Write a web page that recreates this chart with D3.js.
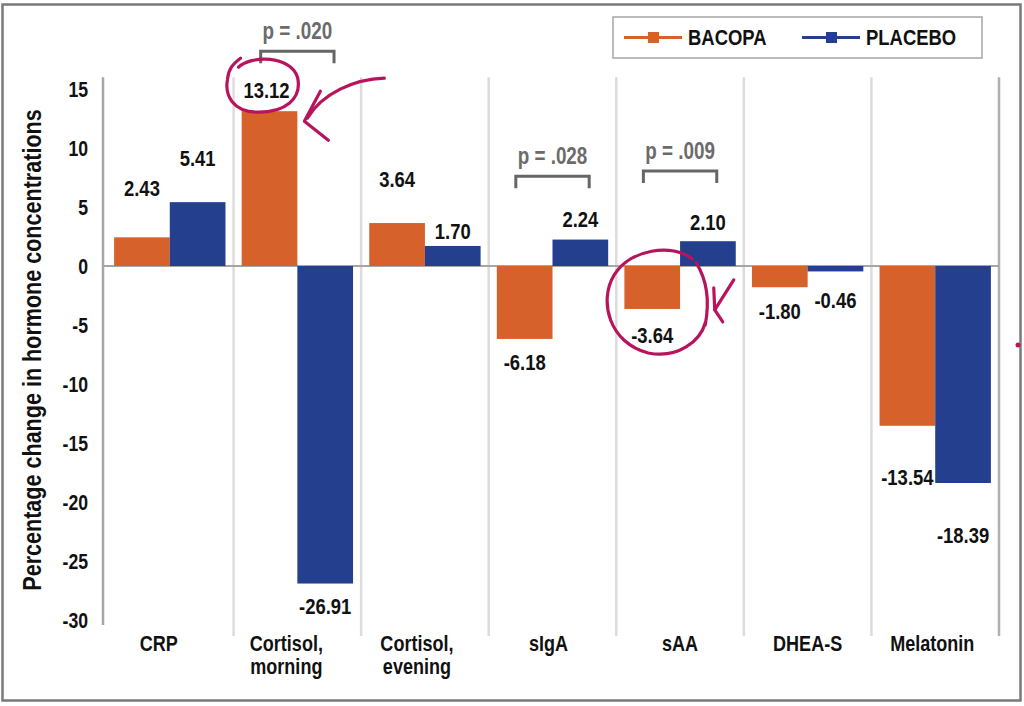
<!DOCTYPE html>
<html>
<head>
<meta charset="utf-8">
<script src="https://cdn.jsdelivr.net/npm/d3@7/dist/d3.min.js"></script>
<style>
  html, body { margin: 0; padding: 0; background: #fff; }
  svg { display: block; }
  text { font-family: "Liberation Sans", Arial, sans-serif; font-weight: bold; }
</style>
</head>
<body>
<svg id="chart" width="1024" height="706"></svg>
<script>
// ---- data ----
const categories = ["CRP", "Cortisol,\nmorning", "Cortisol,\nevening", "sIgA", "sAA", "DHEA-S", "Melatonin"];
const seriesNames = ["BACOPA", "PLACEBO"];
const bacopa  = [2.43, 13.12, 3.64, -6.18, -3.64, -1.80, -13.54];
const placebo = [5.41, -26.91, 1.70, 2.24, 2.10, -0.46, -18.39];
const yTicks  = [15, 10, 5, 0, -5, -10, -15, -20, -25, -30];
const pLabels = ["p = .020", "p = .028", "p = .009"];
const pCats   = ["Cortisol,\nmorning", "sIgA", "sAA"];
const pLevels = [18.2, 7.6, 8.05];           // bracket heights in data units
const circled = ["Cortisol,\nmorning", "sAA"];

// ---- layout / style (not data) ----
const colors = { BACOPA: "#d6612a", PLACEBO: "#233f8d" };
const labelGapB = [49, 21, 44, 23, 26, 24, 51];   // px gap between bar end and label centre
const labelGapP = [44, 22.5, 15, 20, 19, 28.6, 52];
const labelDxB  = [0, -3, 0, 0, 0, 0, 0];
const catDx     = [-11, -11, -8, -4, 0, 0, -3];
const magenta = "#b8145c";
const S = 0.82;   // horizontal squeeze -> narrow face
const fmt = v => v.toFixed(2);

const svg = d3.select("#chart");

// outer frame
svg.append("rect").attr("x", 2.5).attr("y", 4.5).attr("width", 1018).attr("height", 696)
  .attr("fill", "none").attr("stroke", "#7a7a7a").attr("stroke-width", 2.5);

const x = d3.scaleBand().domain(categories).range([106, 999]).paddingInner(0.127).paddingOuter(0.0635);
const xs = d3.scaleBand().domain(seriesNames).range([0, x.bandwidth()]);
const y = d3.scaleLinear().domain([-30, 16]).range([620, 77.2]);

const step = x.step();
const cellLeft = c => x(c) - x.paddingInner() * step / 2;

// category separators
const seps = categories.map(c => cellLeft(c) + step);
svg.append("g").selectAll("line").data(seps).join("line")
  .attr("x1", d => d).attr("x2", d => d)
  .attr("y1", y(16)).attr("y2", 636)
  .attr("stroke", (d, i) => i === seps.length - 1 ? "#b0b0b0" : "#dcdcdc")
  .attr("stroke-width", 2.5);

// zero line
svg.append("line").attr("x1", 104).attr("x2", seps[seps.length - 1]).attr("y1", y(0)).attr("y2", y(0))
  .attr("stroke", "#a6a6a6").attr("stroke-width", 2);

// bars
const rows = categories.map((c, i) => ({ c, i, vals: [
  { s: "BACOPA", v: bacopa[i], gap: labelGapB[i], dx: labelDxB[i] },
  { s: "PLACEBO", v: placebo[i], gap: labelGapP[i], dx: 0 }] }));

const grp = svg.append("g").selectAll("g").data(rows).join("g")
  .attr("transform", d => `translate(${x(d.c)},0)`);

grp.selectAll("rect").data(d => d.vals).join("rect")
  .attr("x", d => xs(d.s)).attr("width", xs.bandwidth())
  .attr("y", d => y(Math.max(0, d.v))).attr("height", d => Math.abs(y(d.v) - y(0)))
  .attr("fill", d => colors[d.s]);

grp.selectAll("text").data(d => d.vals).join("text")
  .attr("transform", d => `translate(${xs(d.s) + xs.bandwidth() / 2 + d.dx},${d.v >= 0 ? y(d.v) - d.gap : y(d.v) + d.gap}) scale(${S},1)`)
  .attr("dy", "0.35em")
  .attr("text-anchor", "middle").attr("font-size", 22.5).attr("fill", "#111")
  .text(d => fmt(d.v));

// y axis
const yAxis = d3.axisLeft(y).tickValues(yTicks).tickSize(0).tickPadding(0).tickFormat(d => String(d));
const ya = svg.append("g").attr("transform", "translate(103,0)").call(yAxis);
ya.select(".domain").attr("stroke", "#a6a6a6").attr("stroke-width", 2.5).attr("d", `M0,${y(16)}V625`);
ya.selectAll(".tick text").attr("x", null).attr("dy", "0.35em")
  .attr("transform", `translate(-15,0) scale(${S},1)`)
  .attr("font-size", 21.5).attr("fill", "#111")
  .style("font-family", "'Liberation Sans', Arial, sans-serif").style("font-weight", "bold");

// y title
svg.append("text").attr("transform", `translate(32,${350}) rotate(-90) scale(${S},1)`)
  .attr("text-anchor", "middle").attr("dy", "0.35em").attr("font-size", 26.3).attr("fill", "#111")
  .text("Percentage change in hormone concentrations");

// category labels
const cl = svg.append("g").selectAll("text").data(categories).join("text")
  .attr("transform", (d, i) => `translate(${x(d) + x.bandwidth() / 2 + catDx[i]},651) scale(${S},1)`)
  .attr("text-anchor", "middle")
  .attr("font-size", 22).attr("fill", "#111");
cl.selectAll("tspan").data(d => d.split("\n")).join("tspan")
  .attr("x", 0)
  .attr("dy", (d, i) => i === 0 ? 0 : 23)
  .text(d => d);

// p-value brackets
pCats.forEach((c, i) => {
  const x0 = x(c) + 19, x1 = x(c) + x.bandwidth() - 19, yy = y(pLevels[i]);
  svg.append("path").attr("d", `M${x0},${yy + 12}V${yy}H${x1}V${yy + 12}`)
    .attr("fill", "none").attr("stroke", "#666").attr("stroke-width", 3);
  svg.append("text").attr("transform", `translate(${(x0 + x1) / 2},${yy - 20}) scale(${S},1)`).attr("dy", "0.35em")
    .attr("text-anchor", "middle").attr("font-size", 23).attr("fill", "#6b6b6b")
    .text(pLabels[i]);
});

// legend
const lg = svg.append("g");
lg.append("rect").attr("x", 613).attr("y", 17).attr("width", 369).attr("height", 41)
  .attr("fill", "#fff").attr("stroke", "#a6a6a6").attr("stroke-width", 1.5);
seriesNames.forEach((s, i) => {
  const lx = 624 + i * 178;
  lg.append("line").attr("x1", lx).attr("x2", lx + 58).attr("y1", 37.5).attr("y2", 37.5)
    .attr("stroke", colors[s]).attr("stroke-width", 3);
  lg.append("rect").attr("x", lx + 24).attr("y", 32).attr("width", 11).attr("height", 11).attr("fill", colors[s]);
  lg.append("text").attr("transform", `translate(${lx + 64},37.5) scale(${S},1)`).attr("dy", "0.35em")
    .attr("font-size", 22.5).attr("fill", "#111").text(s);
});

// hand-drawn magenta annotations (anchored to the circled bars)
const ann = svg.append("g").attr("fill", "none").attr("stroke", magenta).attr("stroke-width", 3.2)
  .attr("stroke-linecap", "round").attr("stroke-linejoin", "round");
{
  const c = circled[0];
  const i = categories.indexOf(c);
  const bx = x(c) + xs("BACOPA") + xs.bandwidth() / 2 - 3;
  const by = y(bacopa[i]) - labelGapB[i];
  const cx = bx - 4, cy = by - 5;
  ann.append("path").attr("d",
    `M${cx - 24},${cy - 18} C${cx - 12},${cy - 30} ${cx + 28},${cy - 30} ${cx + 35},${cy - 8}
     C${cx + 40},${cy + 14} ${cx + 22},${cy + 27} ${cx - 4},${cy + 27}
     C${cx - 30},${cy + 27} ${cx - 38},${cy + 10} ${cx - 35},${cy - 6}
     C${cx - 34},${cy - 16} ${cx - 30},${cy - 21} ${cx - 22},${cy - 27}`);
  const tx = x(c) + xs("PLACEBO") + 7, ty = y(bacopa[i]) + 10;
  ann.append("path").attr("d", `M${tx + 80},${ty - 43} C${tx + 50},${ty - 42} ${tx + 18},${ty - 28} ${tx + 3},${ty - 3}`);
  ann.append("path").attr("d", `M${tx + 16},${ty - 30} L${tx},${ty} L${tx + 24},${ty + 19}`);
}
{
  const c = circled[1];
  const i = categories.indexOf(c);
  const bx = x(c) + xs("BACOPA") + xs.bandwidth() / 2 + 4;
  const cy = y(bacopa[i]) - 6;
  ann.append("path").attr("d",
    `M${bx + 36},${cy - 44} C${bx + 16},${cy - 60} ${bx - 26},${cy - 54} ${bx - 42},${cy - 28}
     C${bx - 58},${cy - 2} ${bx - 47},${cy + 40} ${bx - 8},${cy + 50}
     C${bx + 22},${cy + 56} ${bx + 44},${cy + 38} ${bx + 49},${cy + 20}`);
  ann.append("path").attr("d", `M${bx + 40},${cy - 40} C${bx + 50},${cy - 24} ${bx + 54},${cy - 4} ${bx + 49},${cy + 22}`);
  const ax = x(c) + x.bandwidth() - 21, ay = y(bacopa[i]) + 1;
  ann.append("path").attr("d", `M${ax + 19},${ay - 30} L${ax},${ay}`);
  ann.append("path").attr("d", `M${ax - 1},${ay - 22} L${ax},${ay} L${ax + 8},${ay + 12}`);
}
svg.append("circle").attr("cx", 1018).attr("cy", 345).attr("r", 2.5).attr("fill", magenta);
</script>
</body>
</html>
